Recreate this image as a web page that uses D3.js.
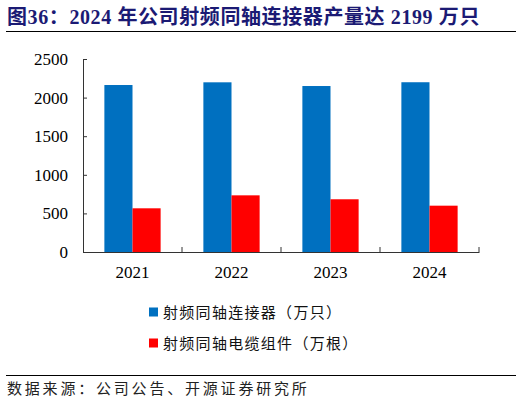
<!DOCTYPE html>
<html>
<head>
<meta charset="utf-8">
<script src="https://cdn.jsdelivr.net/npm/d3@7"></script>
<style>
  body { margin: 0; background: #fff; }
  svg { display: block; }
</style>
</head>
<body>
<svg id="chart" width="522" height="405"></svg>
<script>
// data
var years = ["2021", "2022", "2023", "2024"];
var connectors = [2163, 2198, 2150, 2199];   // 射频同轴连接器（万只）
var cables = [566, 734, 683, 600];           // 射频同轴电缆组件（万根）
var seriesNames = ["射频同轴连接器（万只）", "射频同轴电缆组件（万根）"];
var seriesColors = ["#0070C0", "#FF0000"];
var yTicks = [0, 500, 1000, 1500, 2000, 2500];

const svg = d3.select("#chart");
const cjk = "'Noto Sans CJK SC', sans-serif";
const serif = "'Liberation Serif', 'Times New Roman', 'Noto Sans CJK SC', serif";

// title + rules
svg.append("text")
  .attr("x", 7).attr("y", 24)
  .style("font-family", serif)
  .style("font-size", "20px")
  .style("font-weight", "bold")
  .style("letter-spacing", "0.6px")
  .style("fill", "#1B1A74")
  .text("图36：2024 年公司射频同轴连接器产量达 2199 万只");

svg.append("line").attr("x1", 6).attr("x2", 516).attr("y1", 31.5).attr("y2", 31.5)
  .attr("stroke", "#000").attr("stroke-width", 1);
svg.append("line").attr("x1", 6).attr("x2", 516).attr("y1", 375.5).attr("y2", 375.5)
  .attr("stroke", "#000").attr("stroke-width", 1);

svg.append("text")
  .attr("x", 7).attr("y", 394)
  .style("font-family", cjk)
  .style("font-size", "15px")
  .style("letter-spacing", "2.8px")
  .style("fill", "#222")
  .text("数据来源：公司公告、开源证券研究所");

// plot area
const plotL = 83, plotR = 479, plotT = 59, plotB = 252;

const x = d3.scaleBand().domain(years).range([plotL, plotR]).paddingInner(0).paddingOuter(0);
const y = d3.scaleLinear().domain([0, 2500]).range([plotB, plotT]);

const rows = years.map((yr, i) => ({ year: yr, vals: [connectors[i], cables[i]] }));
const inner = d3.scaleBand().domain([0, 1]).range([0, x.bandwidth()]).paddingOuter(0.76).paddingInner(0);

const g = svg.append("g");
const groups = g.selectAll(".grp").data(rows).enter().append("g")
  .attr("transform", d => `translate(${x(d.year)},0)`);

groups.selectAll("rect").data(d => d.vals).enter().append("rect")
  .attr("x", (d, i) => inner(i))
  .attr("y", d => y(d))
  .attr("width", inner.bandwidth())
  .attr("height", d => plotB - y(d))
  .attr("fill", (d, i) => seriesColors[i]);

// axes
const yAxis = svg.append("g")
  .attr("transform", `translate(${plotL},0)`)
  .call(d3.axisLeft(y).tickValues(yTicks).tickFormat(d3.format("d")).tickSize(4).tickSizeOuter(0).tickPadding(11));
yAxis.selectAll("text").style("font-family", serif).style("font-size", "17px").style("fill", "#000");
yAxis.selectAll("line").attr("x2", 4).attr("stroke", "#333");
yAxis.select(".domain").attr("stroke", "#333");

const xAxis = svg.append("g")
  .attr("transform", `translate(0,${plotB})`)
  .call(d3.axisBottom(x).tickSize(0).tickPadding(14));
xAxis.selectAll("text").style("font-family", serif).style("font-size", "17px").style("fill", "#000");
xAxis.select(".domain").attr("stroke", "#333");
// separators between categories
xAxis.selectAll(".sep").data(years).enter().append("line")
  .attr("class", "sep")
  .attr("x1", d => x(d) + x.bandwidth()).attr("x2", d => x(d) + x.bandwidth())
  .attr("y1", 0).attr("y2", -5)
  .attr("stroke", "#333");

// legend
const legend = svg.append("g");
seriesNames.forEach(function(name, i) {
  const ly = 312 + i * 31;
  legend.append("rect")
    .attr("x", 149).attr("y", ly - 4.5).attr("width", 9).attr("height", 9)
    .attr("fill", seriesColors[i]);
  legend.append("text")
    .attr("x", 163).attr("y", ly + 5.5)
    .style("font-family", cjk)
    .style("font-size", "15px")
    .style("letter-spacing", "1.3px")
    .style("fill", "#111")
    .text(name);
});
</script>
</body>
</html>
